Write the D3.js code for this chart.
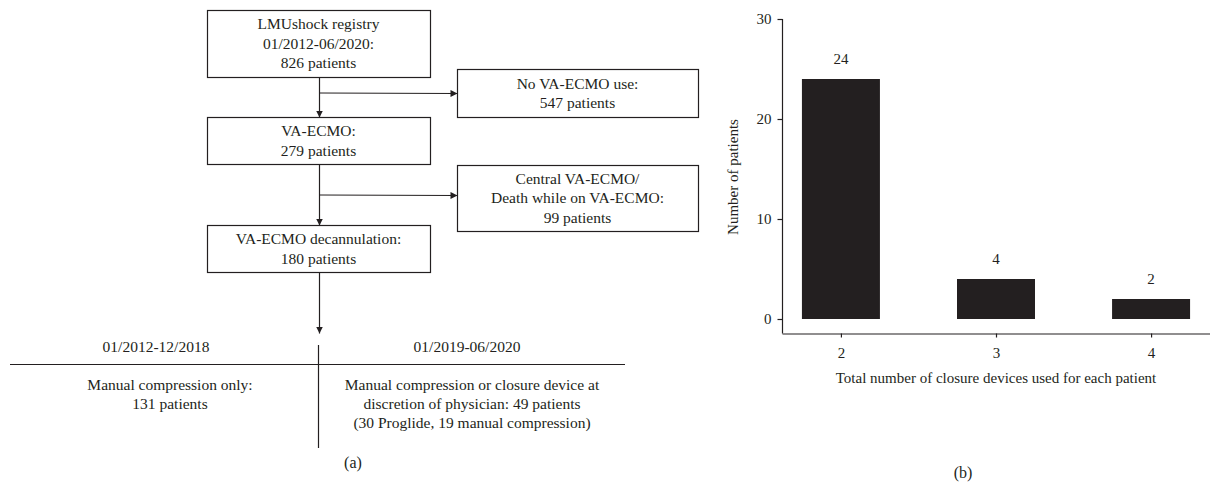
<!DOCTYPE html>
<html>
<head>
<meta charset="utf-8">
<script src="https://cdn.jsdelivr.net/npm/d3@7"></script>
<style>
  body { margin: 0; background: #fff; }
  text { font-family: "Liberation Serif", "DejaVu Serif", serif; fill: #231f20; }
</style>
</head>
<body>
<div id="chart"></div>
<script>
// ---- data: flowchart (a) ----
var boxLabels = [
  ["LMUshock registry", "01/2012-06/2020:", "826 patients"],
  ["No VA-ECMO use:", "547 patients"],
  ["VA-ECMO:", "279 patients"],
  ["Central VA-ECMO/", "Death while on VA-ECMO:", "99 patients"],
  ["VA-ECMO decannulation:", "180 patients"]
];
var periodLabels = ["01/2012-12/2018", "01/2019-06/2020"];
var periodText = [
  ["Manual compression only:", "131 patients"],
  ["Manual compression or closure device at", "discretion of physician: 49 patients", "(30 Proglide, 19 manual compression)"]
];

// ---- data: bar chart (b) ----
var closureDevices = ["2", "3", "4"];
var patientCounts = [24, 4, 2];
var yTickValues = [0, 10, 20, 30];

var svgWidth = 1210;
var svgHeight = 483;
var ink = "#231f20";

var svg = d3.select("#chart")
  .append("svg")
  .attr("width", svgWidth)
  .attr("height", svgHeight);

// arrow head
svg.append("defs").append("marker")
  .attr("id", "arrow")
  .attr("viewBox", "0 0 10 10")
  .attr("refX", 10)
  .attr("refY", 5)
  .attr("markerUnits", "userSpaceOnUse")
  .attr("markerWidth", 7)
  .attr("markerHeight", 7)
  .attr("orient", "auto")
  .append("path")
  .attr("d", "M0,0L10,5L0,10z")
  .attr("fill", ink);

// ---------------- (a) flowchart ----------------
var flow = svg.append("g");

// box positions (layout only)
var boxLayout = [
  { x: 207, y: 10, w: 223, h: 67 },
  { x: 457, y: 69, w: 241, h: 48 },
  { x: 207, y: 117, w: 223, h: 47 },
  { x: 457, y: 165, w: 241, h: 66 },
  { x: 207, y: 225, w: 223, h: 47 }
];
var lineGap = 19.5;

var boxes = flow.selectAll("g.box")
  .data(boxLabels)
  .enter()
  .append("g")
  .attr("class", "box");

boxes.append("rect")
  .attr("x", (d, i) => boxLayout[i].x + 0.5)
  .attr("y", (d, i) => boxLayout[i].y + 0.5)
  .attr("width", (d, i) => boxLayout[i].w)
  .attr("height", (d, i) => boxLayout[i].h)
  .attr("fill", "none")
  .attr("stroke", ink)
  .attr("stroke-width", 1.2);

boxes.each(function(lines, i) {
  var b = boxLayout[i];
  var cy = b.y + b.h / 2 - (lines.length - 1) * lineGap / 2;
  d3.select(this).selectAll("text")
    .data(lines)
    .enter()
    .append("text")
    .attr("x", b.x + b.w / 2)
    .attr("y", (t, j) => cy + j * lineGap)
    .attr("dy", "0.35em")
    .attr("text-anchor", "middle")
    .style("font-size", "15.5px")
    .text(t => t);
});

// connectors
var trunkX = 319;
var arrows = [
  [trunkX, 77, trunkX, 117],
  [trunkX, 164, trunkX, 225],
  [trunkX, 272, trunkX, 333],
  [trunkX, 93, 457, 93],
  [trunkX, 195, 457, 195]
];
flow.selectAll("line.arrow")
  .data(arrows)
  .enter()
  .append("line")
  .attr("class", "arrow")
  .attr("x1", d => d[0] + 0.5)
  .attr("y1", d => d[1])
  .attr("x2", d => d[2] + 0.5)
  .attr("y2", d => d[3] + 0.5)
  .attr("stroke", ink)
  .attr("stroke-width", 1.2)
  .attr("marker-end", "url(#arrow)");

// period divider
flow.append("line")
  .attr("x1", 10).attr("x2", 625)
  .attr("y1", 364.5).attr("y2", 364.5)
  .attr("stroke", ink).attr("stroke-width", 1.2);
flow.append("line")
  .attr("x1", 318.5).attr("x2", 318.5)
  .attr("y1", 345).attr("y2", 448)
  .attr("stroke", ink).attr("stroke-width", 1.2);

var headerX = [156, 467];
var bodyX = [170, 472];

flow.selectAll("text.period")
  .data(periodLabels)
  .enter()
  .append("text")
  .attr("class", "period")
  .attr("x", (d, i) => headerX[i])
  .attr("y", 347)
  .attr("dy", "0.35em")
  .attr("text-anchor", "middle")
  .style("font-size", "15.5px")
  .text(d => d);

periodText.forEach(function(lines, i) {
  flow.selectAll("text.body" + i)
    .data(lines)
    .enter()
    .append("text")
    .attr("class", "body" + i)
    .attr("x", bodyX[i])
    .attr("y", (d, j) => 385 + j * 18.7)
    .attr("dy", "0.35em")
    .attr("text-anchor", "middle")
    .style("font-size", "15.5px")
    .text(d => d);
});

flow.append("text")
  .attr("x", 353)
  .attr("y", 462)
  .attr("dy", "0.35em")
  .attr("text-anchor", "middle")
  .style("font-size", "16px")
  .text("(a)");

// ---------------- (b) bar chart ----------------
var axisLeftX = 782;
var axisBottomY = 333;

var xScale = d3.scalePoint()
  .domain(closureDevices)
  .range([axisLeftX, 1210])
  .padding(0.38);

var yScale = d3.scaleLinear()
  .domain([0, 30])
  .range([319, 19]);

var barWidth = 78;
var chartGroup = svg.append("g");

chartGroup.selectAll("rect.bar")
  .data(patientCounts)
  .enter()
  .append("rect")
  .attr("class", "bar")
  .attr("x", (d, i) => xScale(closureDevices[i]) - barWidth / 2)
  .attr("y", d => yScale(d))
  .attr("width", barWidth)
  .attr("height", d => yScale(0) - yScale(d))
  .attr("fill", ink);

chartGroup.selectAll("text.value")
  .data(patientCounts)
  .enter()
  .append("text")
  .attr("class", "value")
  .attr("x", (d, i) => xScale(closureDevices[i]))
  .attr("y", d => yScale(d) - 20)
  .attr("dy", "0.35em")
  .attr("text-anchor", "middle")
  .style("font-size", "15px")
  .text(d => d);

var leftAxis = d3.axisLeft(yScale)
  .tickValues(yTickValues)
  .tickSize(5)
  .tickSizeOuter(0)
  .tickPadding(6);

var yAxis = chartGroup.append("g")
  .attr("transform", `translate(${axisLeftX + 0.5}, 0)`)
  .call(leftAxis);
yAxis.select(".domain").attr("d", `M0,${yScale(30)}V${axisBottomY + 0.5}`);

var bottomAxis = d3.axisBottom(xScale)
  .tickSize(4)
  .tickSizeOuter(0)
  .tickPadding(10);

var xAxis = chartGroup.append("g")
  .attr("transform", `translate(0, ${axisBottomY + 0.5})`)
  .call(bottomAxis);

[yAxis, xAxis].forEach(function(ax) {
  ax.selectAll("path, line").attr("stroke", ink).attr("stroke-width", 1.2);
  ax.selectAll("text")
    .attr("fill", ink)
    .style("font-family", "Liberation Serif, serif")
    .style("font-size", "15px");
});

chartGroup.append("text")
  .attr("transform", "rotate(-90)")
  .attr("x", -177)
  .attr("y", 733)
  .attr("dy", "0.35em")
  .attr("text-anchor", "middle")
  .style("font-size", "15px")
  .text("Number of patients");

chartGroup.append("text")
  .attr("x", 996)
  .attr("y", 378)
  .attr("dy", "0.35em")
  .attr("text-anchor", "middle")
  .style("font-size", "15px")
  .text("Total number of closure devices used for each patient");

chartGroup.append("text")
  .attr("x", 963)
  .attr("y", 472)
  .attr("dy", "0.35em")
  .attr("text-anchor", "middle")
  .style("font-size", "16px")
  .text("(b)");
</script>
</body>
</html>
